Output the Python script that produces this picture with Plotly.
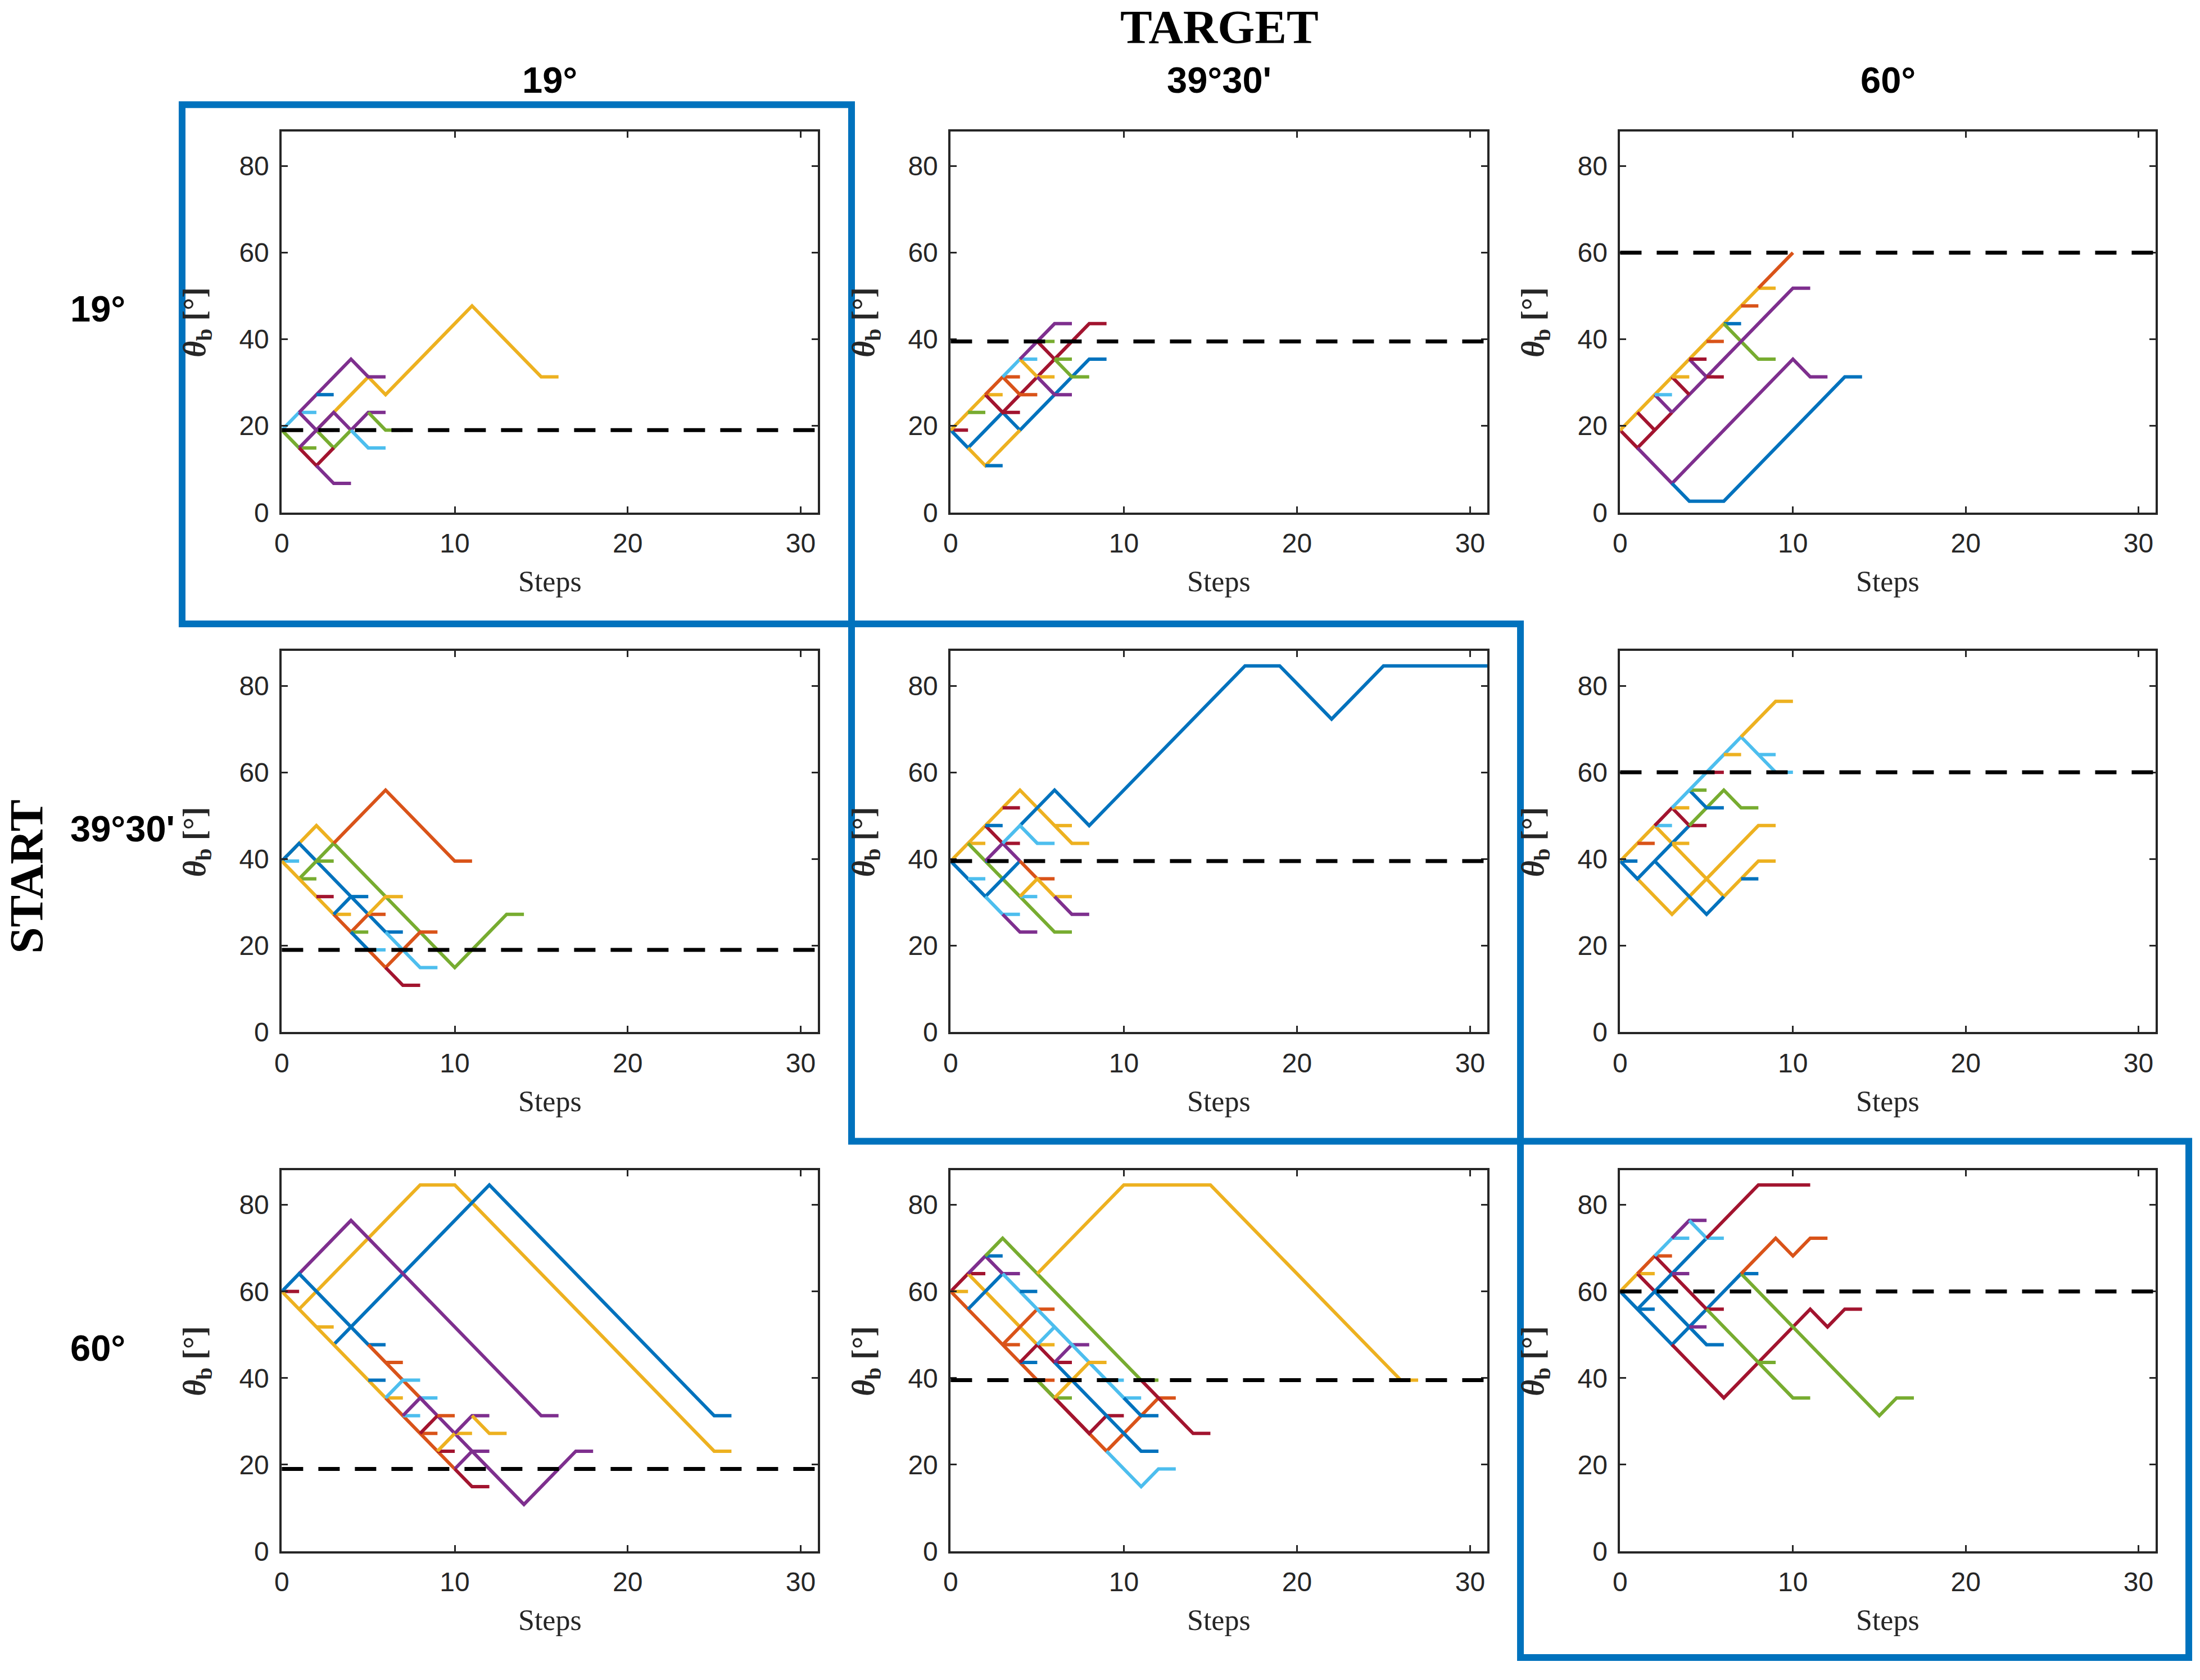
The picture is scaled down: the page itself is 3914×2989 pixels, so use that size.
import plotly.graph_objects as go

# start / target bend angles in degrees, with the labels used on the figure
start_angles = [19, 39.5, 60]
target_angles = [19, 39.5, 60]
angle_labels = ["19°", "39°30'", "60°"]

# bend-angle paths: (colour key, first step, theta_b at each step)
# names are paths_<start>_<target>
paths_19_19 = [
    ("Y", 0, [19, 19]),
    ("L", 0, [19, 23.1, 23.1]),
    ("Y", 2, [19, 23.1, 27.2, 31.3, 27.2, 31.3, 35.4, 39.5, 43.6, 47.7, 43.6, 39.5, 35.4, 31.3, 31.3]),
    ("P", 1, [23.1, 27.2, 31.3, 35.4, 31.3, 31.3]),
    ("B", 2, [27.2, 27.2]),
    ("P", 1, [23.1, 19, 23.1, 19, 23.1, 23.1]),
    ("G", 5, [23.1, 19, 19]),
    ("G", 0, [19, 14.9, 14.9]),
    ("G", 2, [19, 14.9, 19]),
    ("L", 4, [19, 14.9, 14.9]),
    ("P", 1, [14.9, 19, 19]),
    ("R", 1, [14.9, 10.8, 14.9]),
    ("P", 2, [10.8, 6.7, 6.7]),
]

paths_19_395 = [
    ("R", 0, [19, 19]),
    ("B", 0, [19, 14.9, 19, 23.1, 19, 23.1, 27.2, 31.3, 35.4, 35.4]),
    ("Y", 0, [19, 23.1, 27.2, 27.2]),
    ("Y", 1, [14.9, 10.8, 14.9, 19]),
    ("B", 2, [10.8, 10.8]),
    ("G", 1, [23.1, 23.1]),
    ("R", 2, [27.2, 23.1, 27.2, 31.3, 35.4, 39.5, 43.6, 43.6]),
    ("R", 3, [23.1, 23.1]),
    ("O", 2, [27.2, 31.3, 31.3]),
    ("O", 3, [31.3, 27.2, 27.2]),
    ("L", 3, [31.3, 35.4, 35.4]),
    ("Y", 4, [35.4, 31.3, 31.3]),
    ("P", 4, [35.4, 39.5, 43.6, 43.6]),
    ("R", 5, [39.5, 35.4]),
    ("G", 5, [39.5, 39.5]),
    ("G", 6, [35.4, 31.3, 31.3]),
    ("G", 6, [35.4, 35.4]),
    ("P", 5, [31.3, 27.2, 27.2]),
]

paths_19_60 = [
    ("R", 0, [19, 14.9, 19, 23.1]),
    ("P", 1, [14.9, 10.8, 6.7, 10.8, 14.9, 19, 23.1, 27.2, 31.3, 35.4, 31.3, 31.3]),
    ("B", 3, [6.7, 2.6, 2.6, 2.6, 6.7, 10.8, 14.9, 19, 23.1, 27.2, 31.3, 31.3]),
    ("Y", 0, [19, 23.1, 27.2, 31.3, 35.4, 39.5, 43.6, 47.7, 51.8, 51.8]),
    ("O", 8, [51.8, 55.9, 60]),
    ("O", 5, [39.5, 39.5]),
    ("O", 7, [47.7, 47.7]),
    ("B", 6, [43.6, 43.6]),
    ("G", 6, [43.6, 39.5, 35.4, 35.4]),
    ("R", 1, [23.1, 19]),
    ("P", 3, [23.1, 27.2, 31.3, 35.4, 39.5, 43.6, 47.7, 51.8, 51.8]),
    ("P", 2, [27.2, 23.1]),
    ("R", 3, [31.3, 27.2]),
    ("P", 4, [35.4, 31.3]),
    ("R", 4, [35.4, 35.4]),
    ("R", 5, [31.3, 31.3]),
    ("Y", 3, [31.3, 31.3]),
    ("L", 2, [27.2, 27.2]),
]

paths_395_19 = [
    ("L", 0, [39.5, 39.5]),
    ("Y", 0, [39.5, 43.6, 47.7, 43.6]),
    ("G", 3, [43.6, 39.5, 35.4, 31.3, 27.2, 23.1, 19, 14.9, 19, 23.1, 27.2, 27.2]),
    ("O", 3, [43.6, 47.7, 51.8, 55.9, 51.8, 47.7, 43.6, 39.5, 39.5]),
    ("B", 0, [39.5, 43.6, 39.5, 35.4, 31.3, 27.2, 23.1, 23.1]),
    ("G", 1, [35.4, 39.5, 43.6]),
    ("G", 1, [35.4, 35.4]),
    ("G", 2, [39.5, 39.5]),
    ("Y", 0, [39.5, 35.4, 31.3, 27.2, 27.2]),
    ("R", 2, [31.3, 31.3]),
    ("B", 4, [31.3, 31.3]),
    ("O", 3, [27.2, 23.1, 27.2, 27.2]),
    ("B", 3, [27.2, 31.3]),
    ("G", 4, [23.1, 23.1]),
    ("Y", 5, [27.2, 31.3, 31.3]),
    ("B", 4, [23.1, 19]),
    ("L", 5, [19, 19]),
    ("O", 5, [19, 14.9, 19, 23.1, 23.1]),
    ("L", 6, [23.1, 19, 14.9, 14.9]),
    ("R", 6, [14.9, 10.8, 10.8]),
]

paths_395_395 = [
    ("O", 0, [39.5, 39.5]),
    ("Y", 0, [39.5, 43.6, 47.7, 51.8, 55.9, 51.8, 47.7, 43.6, 43.6]),
    ("Y", 1, [43.6, 43.6]),
    ("B", 4, [47.7, 51.8, 55.9, 51.8, 47.7, 51.8, 55.9, 60, 64.1, 68.2, 72.3, 76.4, 80.5, 84.6,
              84.6, 84.6, 80.5, 76.4, 72.3, 76.4, 80.5, 84.6, 84.6, 84.6, 84.6, 84.6, 84.6, 84.6]),
    ("R", 2, [47.7, 43.6, 43.6]),
    ("R", 3, [51.8, 51.8]),
    ("B", 2, [47.7, 47.7]),
    ("G", 1, [43.6, 39.5, 35.4, 31.3, 27.2, 23.1, 23.1]),
    ("B", 0, [39.5, 35.4, 31.3, 35.4, 39.5]),
    ("L", 1, [35.4, 35.4]),
    ("B", 2, [39.5, 39.5]),
    ("P", 2, [39.5, 43.6, 39.5]),
    ("O", 4, [39.5, 35.4, 35.4]),
    ("L", 3, [43.6, 47.7, 43.6, 43.6]),
    ("L", 2, [31.3, 27.2, 27.2]),
    ("P", 3, [27.2, 23.1, 23.1]),
    ("L", 4, [31.3, 31.3]),
    ("Y", 4, [31.3, 35.4, 31.3, 31.3]),
    ("P", 6, [31.3, 27.2, 27.2]),
    ("Y", 6, [47.7, 47.7]),
]

paths_395_60 = [
    ("B", 0, [39.5, 39.5]),
    ("Y", 0, [39.5, 43.6, 47.7, 43.6, 39.5, 35.4, 31.3, 35.4, 39.5, 39.5]),
    ("Y", 1, [35.4, 31.3, 27.2, 31.3, 35.4, 39.5, 43.6, 47.7, 47.7]),
    ("B", 0, [39.5, 35.4, 39.5, 43.6, 47.7]),
    ("B", 2, [39.5, 35.4, 31.3, 27.2, 31.3]),
    ("B", 7, [35.4, 35.4]),
    ("O", 1, [43.6, 43.6]),
    ("L", 2, [47.7, 47.7]),
    ("Y", 3, [43.6, 43.6]),
    ("R", 2, [47.7, 51.8, 47.7, 47.7]),
    ("Y", 3, [51.8, 51.8]),
    ("G", 4, [47.7, 51.8, 55.9, 51.8, 51.8]),
    ("B", 4, [55.9, 51.8, 51.8]),
    ("G", 4, [55.9, 55.9]),
    ("L", 3, [51.8, 55.9, 60, 64.1, 68.2, 64.1, 60, 60]),
    ("R", 5, [60, 60]),
    ("L", 8, [64.1, 64.1]),
    ("Y", 6, [64.1, 64.1]),
    ("Y", 7, [68.2, 72.3, 76.4, 76.4]),
]

paths_60_19 = [
    ("R", 0, [60, 60]),
    ("Y", 1, [55.9, 60, 64.1, 68.2, 72.3, 76.4, 80.5, 84.6, 84.6, 84.6, 80.5, 76.4, 72.3, 68.2,
              64.1, 60, 55.9, 51.8, 47.7, 43.6, 39.5, 35.4, 31.3, 27.2, 23.1, 23.1]),
    ("B", 3, [47.7, 51.8, 55.9, 60, 64.1, 68.2, 72.3, 76.4, 80.5, 84.6, 80.5, 76.4, 72.3, 68.2,
              64.1, 60, 55.9, 51.8, 47.7, 43.6, 39.5, 35.4, 31.3, 31.3]),
    ("P", 1, [64.1, 68.2, 72.3, 76.4, 72.3, 68.2, 64.1, 60, 55.9, 51.8, 47.7, 43.6, 39.5, 35.4, 31.3, 31.3]),
    ("Y", 0, [60, 55.9, 51.8, 47.7, 43.6, 39.5, 35.4]),
    ("Y", 2, [51.8, 51.8]),
    ("B", 5, [39.5, 39.5]),
    ("Y", 6, [35.4, 35.4]),
    ("B", 0, [60, 64.1, 60, 55.9, 51.8, 47.7, 47.7]),
    ("O", 5, [47.7, 43.6, 39.5, 35.4]),
    ("O", 6, [43.6, 43.6]),
    ("O", 6, [35.4, 31.3, 27.2, 23.1, 19]),
    ("L", 6, [35.4, 39.5, 39.5]),
    ("L", 7, [31.3, 31.3]),
    ("L", 8, [35.4, 35.4]),
    ("P", 7, [31.3, 35.4, 31.3, 27.2, 23.1, 19, 14.9, 10.8, 14.9, 19, 23.1, 23.1]),
    ("O", 8, [27.2, 27.2]),
    ("R", 8, [27.2, 31.3]),
    ("O", 9, [31.3, 31.3]),
    ("R", 9, [23.1, 23.1]),
    ("Y", 9, [23.1, 27.2, 27.2]),
    ("P", 10, [27.2, 31.3, 31.3]),
    ("Y", 11, [31.3, 27.2, 27.2]),
    ("P", 10, [19, 23.1, 23.1]),
    ("R", 10, [19, 14.9, 14.9]),
]

paths_60_395 = [
    ("Y", 0, [60, 60]),
    ("O", 0, [60, 55.9, 51.8, 47.7, 43.6, 39.5, 35.4, 31.3, 27.2, 23.1, 27.2, 31.3, 35.4, 35.4]),
    ("G", 5, [39.5, 35.4, 35.4]),
    ("R", 6, [35.4, 31.3, 27.2, 31.3, 31.3]),
    ("L", 9, [23.1, 19, 14.9, 19, 19]),
    ("R", 0, [60, 64.1, 64.1]),
    ("Y", 1, [64.1, 60, 55.9, 51.8, 47.7, 47.7]),
    ("B", 1, [55.9, 60, 64.1]),
    ("O", 3, [47.7, 51.8, 55.9, 55.9]),
    ("O", 3, [47.7, 47.7]),
    ("B", 4, [43.6, 43.6]),
    ("R", 4, [43.6, 47.7, 43.6, 43.6]),
    ("B", 6, [43.6, 39.5, 35.4, 31.3, 27.2, 23.1, 23.1]),
    ("P", 6, [43.6, 47.7, 47.7]),
    ("P", 1, [64.1, 68.2, 64.1, 64.1]),
    ("B", 2, [68.2, 68.2]),
    ("G", 2, [68.2, 72.3, 68.2, 64.1, 60, 55.9, 51.8, 47.7, 43.6, 39.5, 39.5]),
    ("Y", 5, [64.1, 68.2, 72.3, 76.4, 80.5, 84.6, 84.6, 84.6, 84.6, 84.6, 84.6, 80.5, 76.4, 72.3,
              68.2, 64.1, 60, 55.9, 51.8, 47.7, 43.6, 39.5, 39.5]),
    ("L", 3, [64.1, 60, 55.9, 51.8, 47.7, 43.6, 39.5, 35.4, 35.4]),
    ("B", 4, [60, 60]),
    ("L", 5, [47.7, 51.8]),
    ("Y", 6, [35.4, 39.5, 43.6, 43.6]),
    ("B", 10, [35.4, 31.3, 31.3]),
    ("L", 9, [39.5, 39.5]),
    ("R", 11, [39.5, 35.4, 31.3, 27.2, 27.2]),
    ("O", 5, [39.5, 39.5]),
]

paths_60_60 = [
    ("R", 0, [60, 60]),
    ("B", 0, [60, 55.9, 51.8, 47.7, 51.8, 55.9, 60, 64.1, 64.1]),
    ("R", 3, [47.7, 43.6, 39.5, 35.4, 39.5, 43.6, 47.7, 51.8, 55.9, 51.8, 55.9, 55.9]),
    ("Y", 0, [60, 64.1, 64.1]),
    ("B", 1, [55.9, 55.9]),
    ("R", 1, [64.1, 60]),
    ("B", 2, [60, 55.9, 51.8, 47.7, 47.7]),
    ("P", 4, [51.8, 51.8]),
    ("O", 1, [64.1, 68.2, 68.2]),
    ("R", 2, [68.2, 64.1, 60, 55.9, 55.9]),
    ("G", 5, [55.9, 51.8, 47.7, 43.6, 39.5, 35.4, 35.4]),
    ("G", 8, [43.6, 43.6]),
    ("B", 1, [55.9, 60, 64.1, 68.2, 72.3]),
    ("P", 3, [64.1, 64.1]),
    ("L", 2, [68.2, 72.3, 72.3]),
    ("P", 3, [72.3, 76.4, 76.4]),
    ("L", 4, [76.4, 72.3, 72.3]),
    ("R", 5, [72.3, 76.4, 80.5, 84.6, 84.6, 84.6, 84.6]),
    ("G", 7, [64.1, 60, 55.9, 51.8, 47.7, 43.6, 39.5, 35.4, 31.3, 35.4, 35.4]),
    ("O", 7, [64.1, 68.2, 72.3, 68.2, 72.3, 72.3]),
]

panels = [
    [paths_19_19, paths_19_395, paths_19_60],
    [paths_395_19, paths_395_395, paths_395_60],
    [paths_60_19, paths_60_395, paths_60_60],
]

x_ticks = [0, 10, 20, 30]
y_ticks = [0, 20, 40, 60, 80]
x_title = "Steps"
y_title = "<b><i>θ</i><sub>b</sub> [°]</b>"

# MATLAB default line colours
colors = {"B": "#0072BD", "O": "#D95319", "Y": "#EDB120", "P": "#7E2F8E",
          "G": "#77AC30", "L": "#4DBEEE", "R": "#A2142F"}

W, H = 3914, 2989
col_px = [(490, 1447), (1684, 2642), (2879, 3835)]
row_px = [(236, 920), (1169, 1853), (2101, 2785)]
SERIF = "Liberation Serif, Times New Roman, serif"
SANS = "Liberation Sans, Arial, sans-serif"


def px_x(v):
    return v / W


def px_y(v):
    return 1 - v / H


fig = go.Figure()
layout = dict(
    width=W, height=H, margin=dict(l=0, r=0, t=0, b=0),
    paper_bgcolor="white", plot_bgcolor="white", showlegend=False,
)
shapes = []
annotations = []

axis_style = dict(
    showline=True, linecolor="#262626", linewidth=4, mirror="ticks",
    ticks="inside", ticklen=11, tickwidth=3, tickcolor="#262626",
    showgrid=False, zeroline=False, fixedrange=True,
    tickfont=dict(family=SANS, size=48, color="#262626"),
)

for r in range(3):
    for c in range(3):
        n = r * 3 + c + 1
        xa = "x" if n == 1 else f"x{n}"
        ya = "y" if n == 1 else f"y{n}"
        for key, x0, ys in panels[r][c]:
            fig.add_trace(go.Scatter(
                x=list(range(x0, x0 + len(ys))), y=ys, mode="lines",
                line=dict(color=colors[key], width=6),
                xaxis=xa, yaxis=ya, hoverinfo="skip",
            ))
        # target angle, dashed
        shapes.append(dict(
            type="line", xref=f"{xa} domain", yref=ya, x0=0, x1=1,
            y0=target_angles[c], y1=target_angles[c],
            line=dict(color="black", width=7, dash="38px,27px"), layer="above",
        ))
        layout["xaxis" if n == 1 else f"xaxis{n}"] = dict(
            axis_style, domain=[px_x(col_px[c][0]), px_x(col_px[c][1])], anchor=ya,
            range=[0, 31], tickvals=x_ticks, ticklabelstandoff=10,
        )
        layout["yaxis" if n == 1 else f"yaxis{n}"] = dict(
            axis_style, domain=[px_y(row_px[r][1]), px_y(row_px[r][0])], anchor=xa,
            range=[0, 88], tickvals=y_ticks, ticklabelstandoff=9,
        )
        # axis titles
        annotations.append(dict(
            text=x_title, x=px_x(sum(col_px[c]) / 2), y=px_y(row_px[r][1] + 124),
            xref="paper", yref="paper", showarrow=False, xanchor="center", yanchor="middle",
            font=dict(family=SERIF, size=52, color="#262626"),
        ))
        annotations.append(dict(
            text=y_title, x=px_x(col_px[c][0] - 152), y=px_y(sum(row_px[r]) / 2),
            xref="paper", yref="paper", showarrow=False, xanchor="center", yanchor="middle",
            textangle=-90, font=dict(family=SERIF, size=56, color="#262626"),
        ))

# blue frames around the panels where start equals target
for x0, y0, x1, y1 in [(312, 188, 1507, 1120), (1507, 1120, 2701, 2049), (2701, 2049, 3894, 2976)]:
    shapes.append(dict(
        type="rect", xref="paper", yref="paper",
        x0=px_x(x0), x1=px_x(x1), y0=px_y(y1), y1=px_y(y0),
        line=dict(color="#0072BD", width=12), fillcolor="rgba(0,0,0,0)", layer="above",
    ))

annotations.append(dict(
    text="<b>TARGET</b>", x=px_x(2164), y=px_y(48), xref="paper", yref="paper",
    showarrow=False, xanchor="center", yanchor="middle",
    font=dict(family=SERIF, size=85, color="black"),
))
annotations.append(dict(
    text="<b>START</b>", x=px_x(34), y=px_y(1574), xref="paper", yref="paper",
    showarrow=False, xanchor="center", yanchor="middle", textangle=-90,
    font=dict(family=SERIF, size=85, color="black"),
))
for c in range(3):
    annotations.append(dict(
        text=f"<b>{angle_labels[c]}</b>", x=px_x(sum(col_px[c]) / 2), y=px_y(144),
        xref="paper", yref="paper", showarrow=False, xanchor="center", yanchor="middle",
        font=dict(family=SANS, size=65, color="black"),
    ))
for r in range(3):
    annotations.append(dict(
        text=f"<b>{angle_labels[r]}</b>", x=px_x(110), y=px_y(sum(row_px[r]) / 2 - 23),
        xref="paper", yref="paper", showarrow=False, xanchor="left", yanchor="middle",
        font=dict(family=SANS, size=65, color="black"),
    ))

layout["shapes"] = shapes
layout["annotations"] = annotations
fig.update_layout(**layout)

fig.write_html(
    "out.html",
    config={"displayModeBar": False},
    post_script="document.body.style.margin='0px';",
)
